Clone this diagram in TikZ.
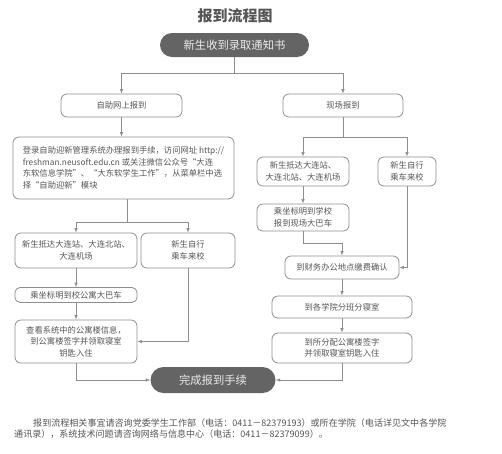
\documentclass[tikz,border=0pt]{standalone}
\usepackage{fontspec}
\setmainfont{Noto Sans CJK SC}
\usetikzlibrary{arrows.meta, positioning, calc}
\definecolor{ink}{HTML}{555555}
\definecolor{edge}{HTML}{8E8E8E}
\definecolor{pill}{HTML}{646464}
\tikzset{
  stepbox/.style = {rectangle, rounded corners=6pt, draw=edge, fill=white,
                    line width=0.8pt, text=ink, align=center, inner sep=1pt,
                    font=\fontsize{8.3}{11.5}\selectfont},
  endbox/.style  = {rectangle, rounded corners=12pt, draw=none, fill=pill,
                    text=white!92!black, inner sep=1pt,
                    font=\fontsize{11.3}{13}\selectfont},
  arr/.style     = {-{Latex[length=4.5pt,width=3.6pt]}, line width=0.8pt, color=edge},
  ln/.style      = {line width=0.8pt, color=edge},
  foot/.style    = {anchor=west, inner sep=0pt, text=ink,
                    font=\fontsize{9.05}{11}\selectfont},
}

\begin{document}
\begin{tikzpicture}[x=1pt, y=-1pt]
  \useasboundingbox (0,0) rectangle (502,453);

  \node[text=ink, font=\fontsize{15}{17}\selectfont\bfseries] (title) at (235,16) {报到流程图};

  \node[endbox, minimum width=149pt, minimum height=24pt] (recv) at (234.5,45) {新生收到录取通知书};

  % two ways of reporting
  \node[stepbox, minimum width=121pt, minimum height=23pt] (online) at (121.5,105.5) {自助网上报到};
  \node[stepbox, minimum width=120pt, minimum height=23pt] (onsite) at (343,105.5) {现场报到};

  % left branch
  \node[stepbox, minimum width=221pt, minimum height=62pt, align=left] (system) at (123.5,168)
    {登录自助迎新管理系统办理报到手续，访问网址 http://\\
     freshman.neusoft.edu.cn 或关注微信公众号“大连\\
     东软信息学院”、“大东软学生工作”，从菜单栏中选\\
     择“自助迎新”模块};
  \node[stepbox, minimum width=122pt, minimum height=35pt] (arriveL) at (76,250.5) {新生抵达大连站、大连北站、\\大连机场};
  \node[stepbox, minimum width=94pt, minimum height=35pt] (selfL) at (188,250.5) {新生自行\\乘车来校};
  \node[stepbox, minimum width=122pt, minimum height=15pt, rounded corners=5pt] (busL) at (76,295) {乘坐标明到校公寓大巴车};
  \node[stepbox, minimum width=122pt, minimum height=43pt] (keyL) at (76,341.5) {查看系统中的公寓楼信息，\\到公寓楼签字并领取寝室\\钥匙入住};

  % right branch
  \node[stepbox, minimum width=92pt, minimum height=29pt] (arriveR) at (303,171.5) {新生抵达大连站、\\大连北站、大连机场};
  \node[stepbox, minimum width=58pt, minimum height=29pt] (selfR) at (407,171.5) {新生自行\\乘车来校};
  \node[stepbox, minimum width=92pt, minimum height=27pt] (busR) at (303,217.5) {乘坐标明到学校\\报到现场大巴车};
  \node[stepbox, minimum width=114pt, minimum height=23pt] (pay) at (342,267.5) {到财务办公地点缴费确认};
  \node[stepbox, minimum width=140pt, minimum height=22pt] (college) at (342,307) {到各学院分班分寝室};
  \node[stepbox, minimum width=140pt, minimum height=30pt] (keyR) at (342,348) {到所分配公寓楼签字\\并领取寝室钥匙入住};

  \node[endbox, minimum width=125pt, minimum height=26pt, rounded corners=13pt] (done) at (213,380) {完成报到手续};

  % connectors
  \coordinate (fork) at (234.5,73);
  \draw[ln] (recv.south) -- (fork);
  \draw[arr] (fork) -| (online.north);
  \draw[arr] (fork) -| (onsite.north);

  \draw[arr] (online.south) -- (online.south |- system.north);
  \coordinate (forkL) at (127,222);
  \draw[ln] (forkL |- system.south) -- (forkL);
  \draw[arr] (forkL) -| (arriveL.north);
  \draw[arr] (forkL) -| (selfL.north);
  \draw[arr] (arriveL.south) -- (busL.north);
  \draw[arr] (busL.south) -- (keyL.north);
  \draw[arr] (selfL.south) |- (keyL.east);
  \draw[arr] (keyL.south) |- (done.west);

  \coordinate (forkR) at (343,137);
  \draw[ln] (onsite.south) -- (forkR);
  \draw[arr] (forkR) -| (arriveR.north);
  \draw[arr] (forkR) -| (selfR.north);
  \draw[arr] (arriveR.south) -- (busR.north);
  \draw[arr] (busR.south) -- ++(0,12) -| (pay.north);
  \draw[arr] (selfR.south) |- (pay.east);
  \draw[arr] (pay.south) -- (college.north);
  \draw[arr] (college.south) -- (keyR.north);
  \draw[arr] (keyR.south) |- (done.east);

  % footnote
  \node[foot] (foot1) at (33,423) {报到流程相关事宜请咨询党委学生工作部（电话：0411－82379193）或所在学院（电话详见文中各学院};
  \node[foot] (foot2) at (14,434.5) {通讯录），系统技术问题请咨询网络与信息中心（电话：0411－82379099）。};
\end{tikzpicture}
\end{document}
